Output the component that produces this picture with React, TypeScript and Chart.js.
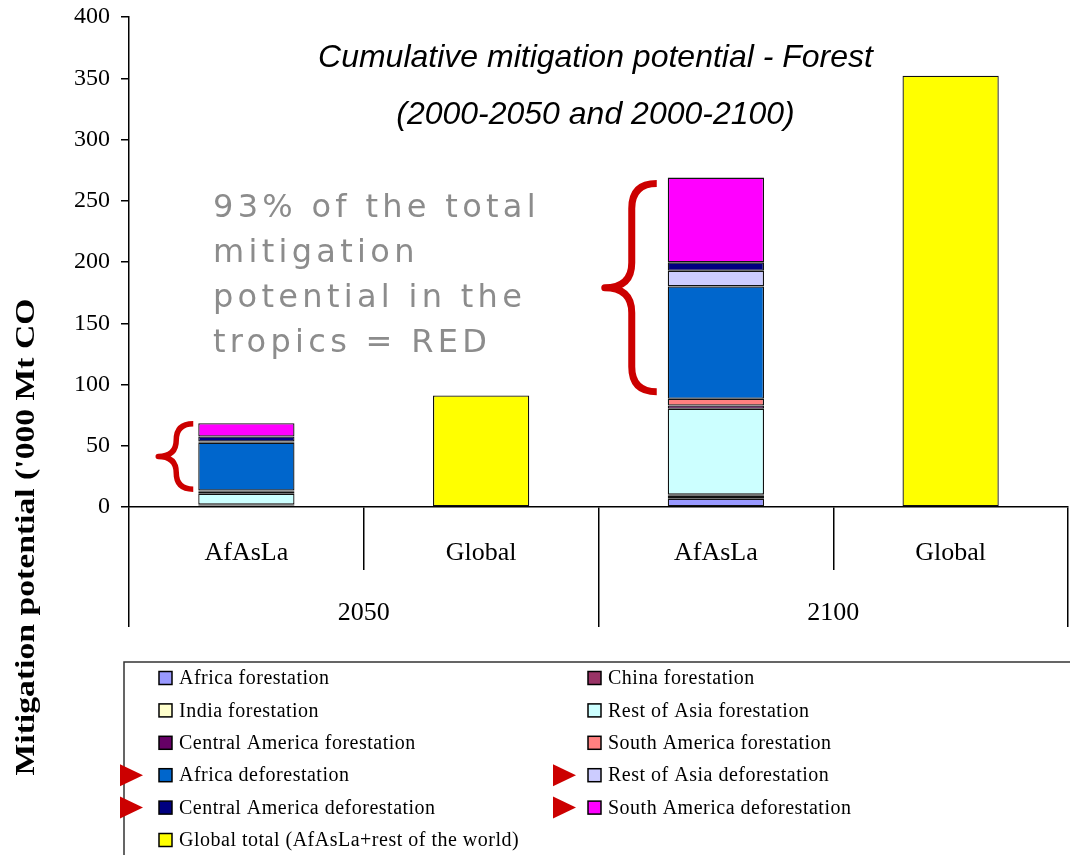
import React, { useEffect, useRef } from 'react';
import { Chart, registerables } from 'chart.js';

Chart.register(...registerables);

// ---------- data ----------
const categories = ['AfAsLa', 'Global', 'AfAsLa', 'Global'];
const periods = ['2050', '2100'];

const seriesNames = [
  'Africa forestation',
  'China forestation',
  'India forestation',
  'Rest of Asia forestation',
  'Central America forestation',
  'South America forestation',
  'Africa deforestation',
  'Rest of Asia deforestation',
  'Central America deforestation',
  'South America deforestation',
  'Global total (AfAsLa+rest of the world)',
];

const seriesColors = [
  '#9999FF',
  '#993366',
  '#FFFFCC',
  '#CCFFFF',
  '#660066',
  '#FF8080',
  '#0066CC',
  '#CCCCFF',
  '#000080',
  '#FF00FF',
  '#FFFF00',
];

const africaForestation = [1.2, null, 6.8, null];
const chinaForestation = [0.4, null, 2.3, null];
const indiaForestation = [0.3, null, 1.0, null];
const restOfAsiaForestation = [9.0, null, 70.1, null];
const centralAmericaForestation = [1.5, null, 2.7, null];
const southAmericaForestation = [1.0, null, 5.5, null];
const africaDeforestation = [39.0, null, 91.7, null];
const restOfAsiaDeforestation = [1.0, null, 12.8, null];
const centralAmericaDeforestation = [4.2, null, 6.8, null];
const southAmericaDeforestation = [10.8, null, 69.2, null];
const globalTotal = [null, 91, null, 352];

const seriesValues = [
  africaForestation,
  chinaForestation,
  indiaForestation,
  restOfAsiaForestation,
  centralAmericaForestation,
  southAmericaForestation,
  africaDeforestation,
  restOfAsiaDeforestation,
  centralAmericaDeforestation,
  southAmericaDeforestation,
  globalTotal,
];

// series marked with a red arrow in the legend (tropical deforestation)
const tropicalFlags = [false, false, false, false, false, false, true, true, true, true, false];

const yMin = 0;
const yMax = 400;
const yStep = 50;

const titleLines = ['Cumulative mitigation potential - Forest', '(2000-2050 and 2000-2100)'];
const noteLines = ['93% of the total', 'mitigation', 'potential in the', 'tropics = RED'];
const yTitle = "Mitigation potential ('000 Mt CO";

// value ranges spanned by the red braces, and the bar (category index) each one sits beside
const braceRanges = [
  [14.5, 68],
  [94, 264],
];
const braceBars = [0, 2];

// ---------- styles ----------
const SERIF = '"Liberation Serif", "Times New Roman", serif';
const braceStyles = [
  { gap: 5, hook: 17, tip: 18, lw: 5.5 },
  { gap: 11, hook: 25, tip: 27, lw: 7 },
];

const overlayPlugin = {
  id: 'overlay',
  afterDraw(chart: any) {
    const ctx: CanvasRenderingContext2D = chart.ctx;
    const area = chart.chartArea;
    const yScale = chart.scales.y;

    // title inside plot
    ctx.save();
    ctx.fillStyle = '#000';
    ctx.font = 'italic 32px "Liberation Sans", Arial, sans-serif';
    ctx.textAlign = 'center';
    ctx.textBaseline = 'middle';
    const cx = (area.left + area.right) / 2;
    titleLines.forEach((t, i) => ctx.fillText(t, cx - 3, area.top + 41 + i * 57));
    ctx.restore();

    // grey note
    ctx.save();
    ctx.fillStyle = '#8c8c8c';
    ctx.font = '32px "DejaVu Sans", Verdana, sans-serif';
    (ctx as any).letterSpacing = '4.3px';
    ctx.textAlign = 'left';
    ctx.textBaseline = 'alphabetic';
    noteLines.forEach((t, i) => ctx.fillText(t, area.left + 84, area.top + 200 + i * 45));
    ctx.restore();

    // red braces
    const meta = chart.getDatasetMeta(0);
    braceRanges.forEach((rg, k) => {
      const bar = meta.data[braceBars[k]];
      if (!bar) return;
      const st = braceStyles[k];
      const left = bar.x - bar.width / 2;
      const yTop = yScale.getPixelForValue(rg[1]);
      const yBot = yScale.getPixelForValue(rg[0]);
      const xr = left - st.gap;
      const xs = xr - st.hook;
      const xt = xs - st.tip;
      const ym = (yTop + yBot) / 2;
      const r = Math.min(st.hook, (yBot - yTop) / 4);
      ctx.save();
      ctx.strokeStyle = '#CC0000';
      ctx.lineWidth = st.lw;
      ctx.lineCap = 'butt';
      ctx.lineJoin = 'round';
      ctx.beginPath();
      ctx.moveTo(xr, yTop);
      ctx.quadraticCurveTo(xs, yTop, xs, yTop + r);
      ctx.lineTo(xs, ym - r);
      ctx.quadraticCurveTo(xs, ym, xt, ym);
      ctx.quadraticCurveTo(xs, ym, xs, ym + r);
      ctx.lineTo(xs, yBot - r);
      ctx.quadraticCurveTo(xs, yBot, xr, yBot);
      ctx.stroke();
      ctx.restore();
    });

    // y axis title
    ctx.save();
    ctx.fillStyle = '#000';
    ctx.font = 'bold 27px ' + SERIF;
    ctx.textAlign = 'center';
    ctx.textBaseline = 'middle';
    ctx.translate(27, 537);
    ctx.rotate(-Math.PI / 2);
    const w = ctx.measureText(yTitle).width;
    ctx.scale(477 / w, 1);
    ctx.fillText(yTitle, 0, 0);
    ctx.restore();

    // legend
    const boxTop = 662;
    const boxLeft = 124;
    ctx.save();
    ctx.strokeStyle = '#333';
    ctx.lineWidth = 1.5;
    ctx.strokeRect(boxLeft, boxTop, chart.width + 20 - boxLeft, chart.height + 20 - boxTop);
    ctx.font = '20px ' + SERIF;
    (ctx as any).letterSpacing = '0.5px';
    ctx.textBaseline = 'middle';
    ctx.textAlign = 'left';
    chart.data.datasets.forEach((ds: any, i: number) => {
      const col = i % 2;
      const row = Math.floor(i / 2);
      const sx = col === 0 ? 159 : 588;
      const cy = boxTop + 16 + row * 32.4;
      ctx.fillStyle = ds.backgroundColor;
      ctx.fillRect(sx, cy - 6.5, 13, 13);
      ctx.strokeStyle = '#000';
      ctx.lineWidth = 1.5;
      ctx.strokeRect(sx, cy - 6.5, 13, 13);
      ctx.fillStyle = '#000';
      ctx.fillText(ds.label, sx + 20, cy + 1);
      if (tropicalFlags[i]) {
        const tr = sx - (col === 0 ? 16 : 12);
        ctx.fillStyle = '#CC0000';
        ctx.beginPath();
        ctx.moveTo(tr, cy);
        ctx.lineTo(tr - 23, cy - 11);
        ctx.lineTo(tr - 23, cy + 11);
        ctx.closePath();
        ctx.fill();
      }
    });
    ctx.restore();
  },
};

export default function App() {
  const canvasRef = useRef<HTMLCanvasElement | null>(null);

  useEffect(() => {
    if (!canvasRef.current) return;
    const tickFont = { family: SERIF, size: 24 };
    const catFont = { family: SERIF, size: 26 };
    const chart = new Chart(canvasRef.current, {
      type: 'bar',
      data: {
        labels: categories,
        datasets: seriesNames.map((name, i) => ({
          label: name,
          data: seriesValues[i],
          backgroundColor: seriesColors[i],
          borderColor: '#111',
          borderWidth: 1.3,
          borderSkipped: false,
          barPercentage: 0.41,
          categoryPercentage: 1,
        })),
      },
      options: {
        responsive: false,
        animation: false,
        events: [],
        layout: { padding: { top: 17, left: 0, right: 2, bottom: 221 } },
        plugins: {
          legend: { display: false },
          tooltip: { enabled: false },
          title: { display: false },
        },
        scales: {
          x: {
            stacked: true,
            offset: true,
            grid: { offset: true, drawOnChartArea: false, tickLength: 63, color: '#000', lineWidth: 1.5 },
            border: { color: '#000', width: 1.5 },
            ticks: { font: catFont, color: '#000', padding: -32.6, maxRotation: 0, autoSkip: false },
            afterFit: (s: any) => {
              s.height = 63;
            },
          },
          x2: {
            type: 'category',
            labels: periods,
            position: 'bottom',
            offset: true,
            grid: { offset: true, drawOnChartArea: false, tickLength: 57, color: '#000', lineWidth: 1.5 },
            border: { display: false },
            ticks: { font: catFont, color: '#000', padding: -29.6, maxRotation: 0, autoSkip: false },
            afterFit: (s: any) => {
              s.height = 64;
            },
          },
          y: {
            stacked: true,
            min: yMin,
            max: yMax,
            ticks: { stepSize: yStep, font: tickFont, color: '#000', padding: 11 },
            grid: { drawOnChartArea: false, tickLength: 8, color: '#000', lineWidth: 1.5 },
            border: { color: '#000', width: 1.5 },
            afterFit: (s: any) => {
              s.width = 129;
              s.paddingTop = 0;
              s.paddingBottom = 0;
            },
          },
        },
      } as any,
      plugins: [overlayPlugin],
    });
    return () => chart.destroy();
  }, []);

  return (
    <div style={{ position: 'absolute', left: 0, top: 0, width: 1070, height: 855, background: '#fff' }}>
      <canvas ref={canvasRef} width={1070} height={855} />
    </div>
  );
}
